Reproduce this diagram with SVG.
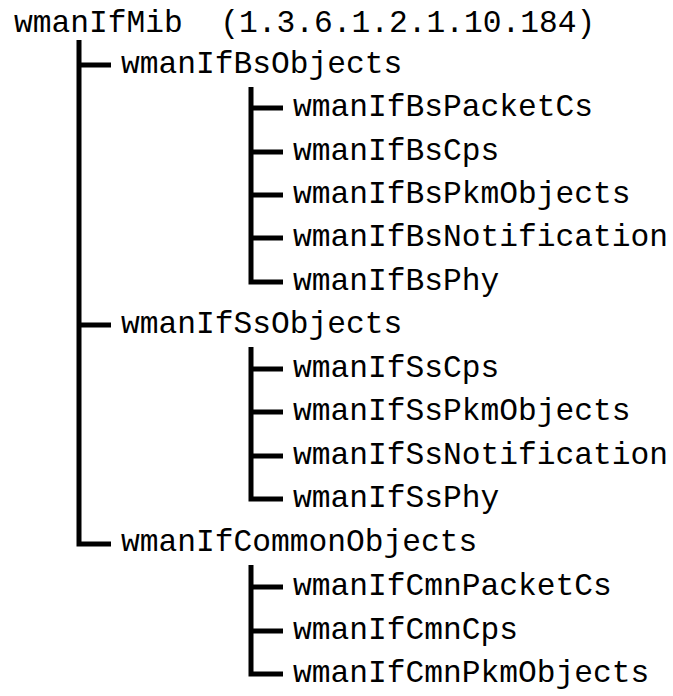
<svg xmlns="http://www.w3.org/2000/svg" width="673" height="696" viewBox="0 0 673 696">
  <style>
    .t { font-family: "Liberation Mono", "DejaVu Sans Mono", monospace; font-size: 31.25px; fill: #000; }
    .c { fill: none; stroke: #000; stroke-width: 5; stroke-linecap: butt; stroke-linejoin: miter; }
  </style>
  <rect width="673" height="696" fill="#fff"/>
  <g id="connectors">
    <path class="c" d="M79 40 V544 H111 M79 65 H111 M79 325 H111"/>
    <path class="c" d="M251 87 V282 H283 M251 108 H283 M251 152 H283 M251 195 H283 M251 238 H283"/>
    <path class="c" d="M251 347 V499 H283 M251 369 H283 M251 412 H283 M251 456 H283"/>
    <path class="c" d="M251 565 V674 H283 M251 587 H283 M251 631 H283"/>
  </g>
  <g id="wmanIfMib"><text class="t" x="14" y="32" xml:space="preserve">wmanIfMib  (1.3.6.1.2.1.10.184)</text></g>
  <g id="wmanIfBsObjects"><text class="t" x="121" y="73">wmanIfBsObjects</text></g>
  <g id="wmanIfBsPacketCs"><text class="t" x="293" y="116">wmanIfBsPacketCs</text></g>
  <g id="wmanIfBsCps"><text class="t" x="293" y="160">wmanIfBsCps</text></g>
  <g id="wmanIfBsPkmObjects"><text class="t" x="293" y="203">wmanIfBsPkmObjects</text></g>
  <g id="wmanIfBsNotification"><text class="t" x="293" y="246">wmanIfBsNotification</text></g>
  <g id="wmanIfBsPhy"><text class="t" x="293" y="290">wmanIfBsPhy</text></g>
  <g id="wmanIfSsObjects"><text class="t" x="121" y="333">wmanIfSsObjects</text></g>
  <g id="wmanIfSsCps"><text class="t" x="293" y="377">wmanIfSsCps</text></g>
  <g id="wmanIfSsPkmObjects"><text class="t" x="293" y="420">wmanIfSsPkmObjects</text></g>
  <g id="wmanIfSsNotification"><text class="t" x="293" y="464">wmanIfSsNotification</text></g>
  <g id="wmanIfSsPhy"><text class="t" x="293" y="507">wmanIfSsPhy</text></g>
  <g id="wmanIfCommonObjects"><text class="t" x="121" y="551">wmanIfCommonObjects</text></g>
  <g id="wmanIfCmnPacketCs"><text class="t" x="293" y="595">wmanIfCmnPacketCs</text></g>
  <g id="wmanIfCmnCps"><text class="t" x="293" y="639">wmanIfCmnCps</text></g>
  <g id="wmanIfCmnPkmObjects"><text class="t" x="293" y="682">wmanIfCmnPkmObjects</text></g>
</svg>
